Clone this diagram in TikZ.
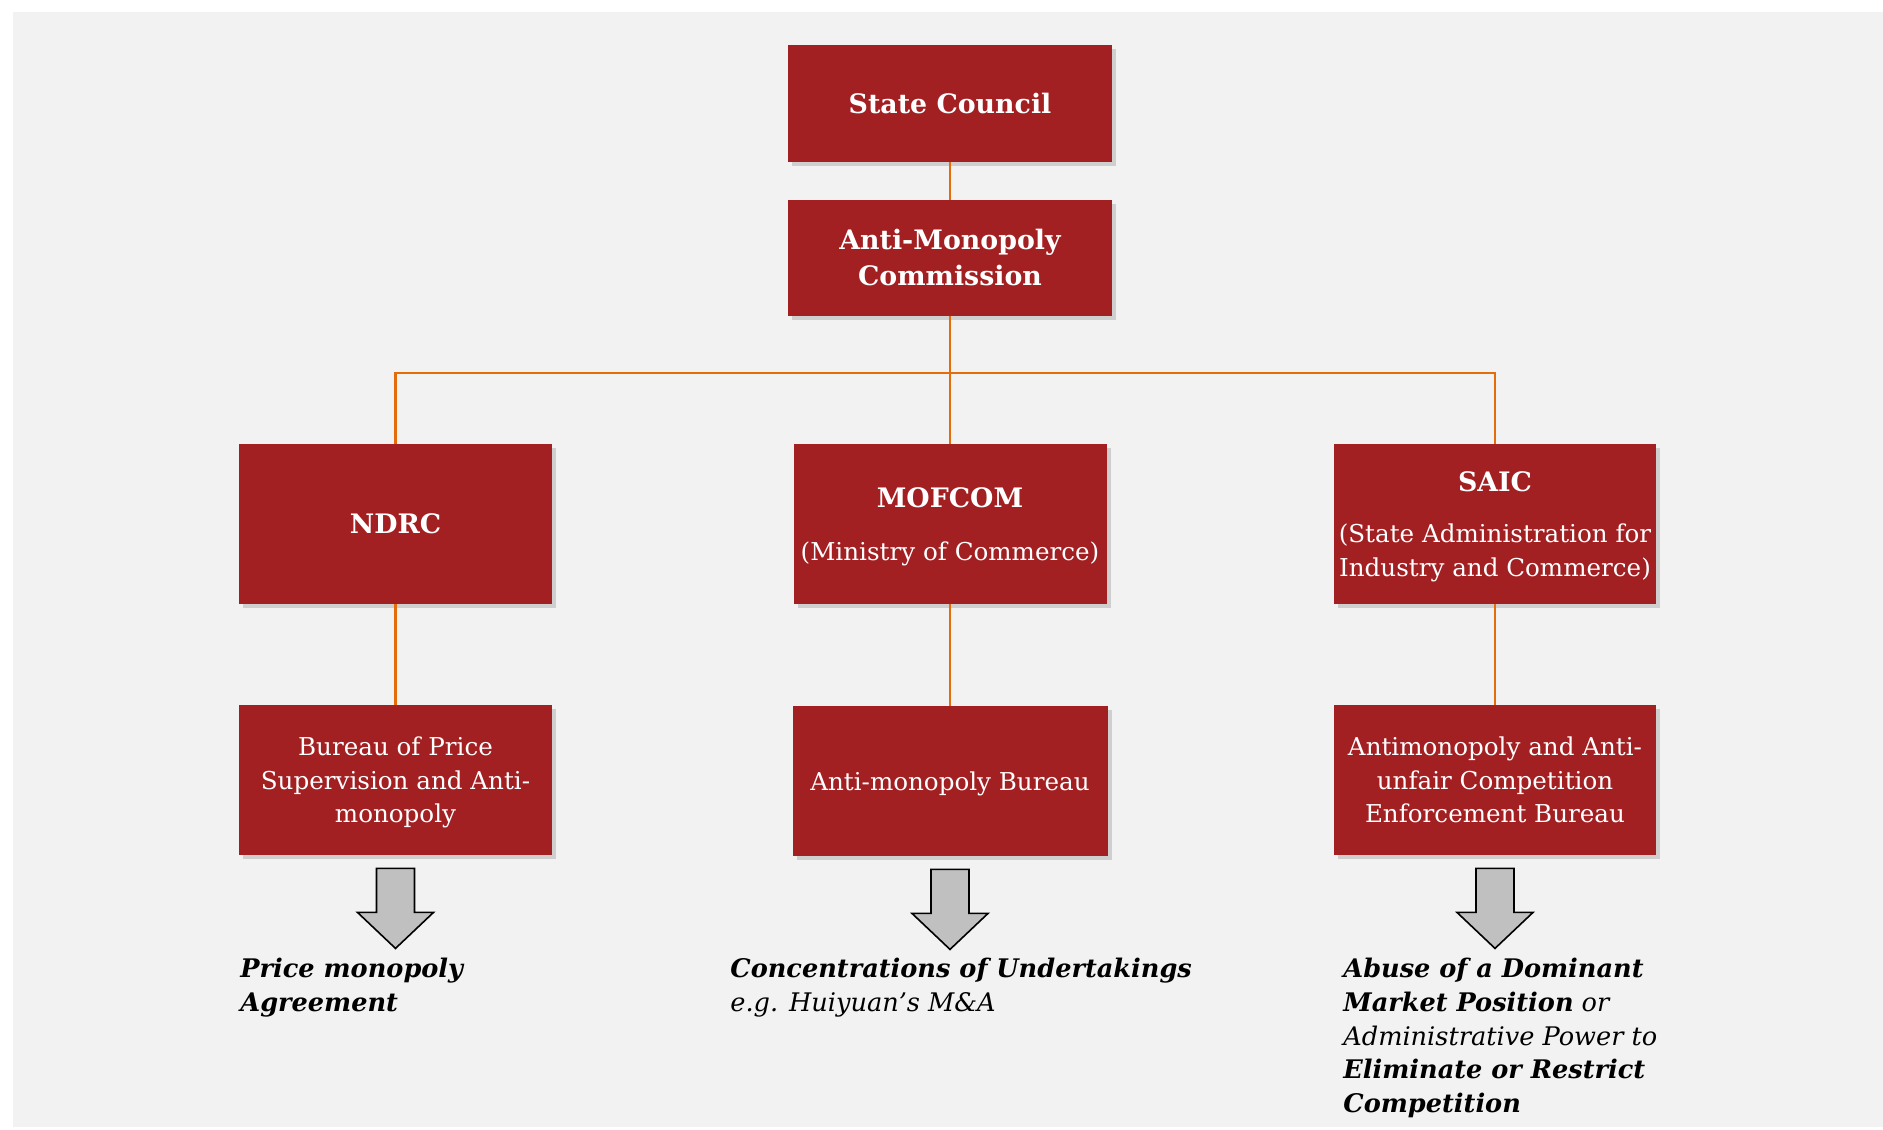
\documentclass[tikz,border=0pt]{standalone}
\usepackage{fontspec}
\setmainfont{DejaVu Serif}
\usetikzlibrary{shadows}

\definecolor{boxred}{RGB}{162,31,34}
\definecolor{linkorange}{RGB}{228,108,10}
\definecolor{bggray}{RGB}{242,242,242}
\definecolor{arrowgray}{RGB}{192,192,192}
\newcommand{\ttlfont}{\fontsize{13.4}{18}\selectfont\bfseries}
\newcommand{\regfont}{\fontsize{12.3}{16.8}\selectfont}

\begin{document}
\begin{tikzpicture}[x=0.5pt,y=-0.5pt,
    box/.style={fill=boxred, text=white, inner sep=0pt, align=center,
        drop shadow={shadow xshift=2pt, shadow yshift=-2pt, opacity=0.3}},
    topbox/.style={box, minimum width=162pt, minimum height=58pt, font=\ttlfont},
    agency/.style={box, minimum width=#1, minimum height=80pt, font=\regfont, text depth=-1.5pt},
    bureau/.style={box, minimum width=#1, minimum height=75pt, font=\regfont, text depth=-1.5pt},
    link/.style={linkorange, line width=1.3pt},
    bigarrow/.style={fill=arrowgray, draw=black, line width=0.8pt, line join=miter},
    result/.style={anchor=north west, inner sep=0pt, align=left,
        font=\fontsize{12.8}{16.8}\selectfont\itshape}]
    % page and grey panel
    \useasboundingbox (0,0) rectangle (1883,1129);
    \fill [white] (0,0) rectangle (1883,1129);
    \fill [bggray] (13,12) rectangle (1883,1127);
    % top of the hierarchy
    \node [topbox] (sc) at (950,103.5) {State Council};
    \node [topbox] (amc) at (950,258) {Anti-Monopoly\\Commission};
    \coordinate (hub) at (950,373);
    % the three agencies
    \node [agency=156.5pt] (ndrc) at (395.5,524) {{\ttlfont NDRC}};
    \node [agency=156.5pt] (mofcom) at (950,524) {{\ttlfont MOFCOM}\\[9.5pt](Ministry of Commerce)};
    \node [agency=161pt] (saic) at (1495,524) {{\ttlfont SAIC}\\[9pt](State Administration for\\Industry and Commerce)};
    % their bureaus
    \node [bureau=156.5pt] (pb) at (395.5,780) {Bureau of Price\\Supervision and Anti-\\monopoly};
    \node [bureau=157.5pt] (ab) at (950,781) {Anti-monopoly Bureau};
    \node [bureau=161pt] (eb) at (1495,780) {Antimonopoly and Anti-\\unfair Competition\\Enforcement Bureau};
    % connectors
    \draw [link] (sc) -- (amc);
    \draw [link] (amc) -- (hub);
    \draw [link] (hub) -| (ndrc);
    \draw [link] (hub) -- (mofcom);
    \draw [link] (hub) -| (saic);
    \foreach \a/\b in {ndrc/pb, mofcom/ab, saic/eb}
        \draw [link] (\a) -- (\b);
    % block arrows under the bureaus
    \foreach \b in {pb,ab,eb}
        \draw [bigarrow] ([yshift=-6.5pt]\b.south) ++(-19,0) -- ++(0,44) -- ++(-19,0)
            -- ++(38,36) -- ++(38,-36) -- ++(-19,0) -- ++(0,-44) -- cycle;
    % what each one handles
    \node [result] (pmtext) at (240,958) {\textbf{Price monopoly}\\\textbf{Agreement}};
    \node [result] (cutext) at (730,958) {\textbf{Concentrations of Undertakings}\\e.g. Huiyuan’s M\&A};
    \node [result] (abtext) at (1343,958) {\textbf{Abuse of a Dominant}\\\textbf{Market Position} or\\Administrative Power to\\\textbf{Eliminate or Restrict}\\\textbf{Competition}};
\end{tikzpicture}
\end{document}
